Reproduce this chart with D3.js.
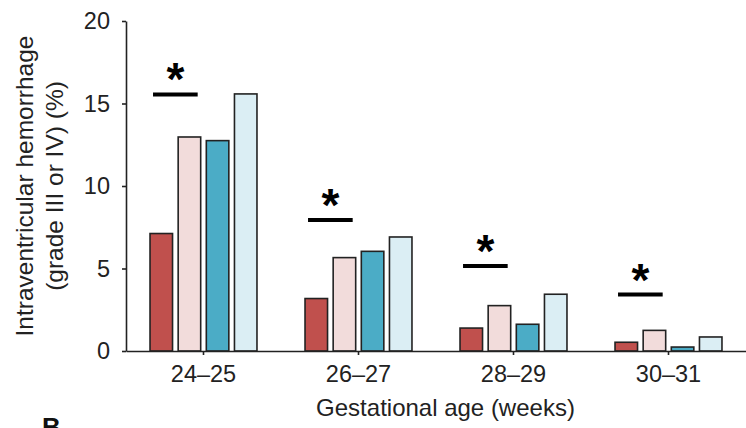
<!DOCTYPE html>
<html>
<head>
<meta charset="utf-8">
<script src="https://cdn.jsdelivr.net/npm/d3@7"></script>
<style>
  html, body { margin: 0; padding: 0; background: #fff; }
  svg { display: block; }
  text { font-family: "Liberation Sans", Arial, Helvetica, sans-serif; fill: #222; }
</style>
</head>
<body>
<svg id="chart" width="746" height="428"></svg>
<script>
// ---- data ----
const categories = ["24\u201325", "26\u201327", "28\u201329", "30\u201331"];
const seriesNames = ["Series 1", "Series 2", "Series 3", "Series 4"];
const series1 = [7.12, 3.18, 1.39, 0.53];
const series2 = [12.97, 5.66, 2.75, 1.25];
const series3 = [12.75, 6.04, 1.62, 0.24];
const series4 = [15.58, 6.91, 3.44, 0.85];
const sigLevels = [15.55, 7.94, 5.15, 3.42];   // significance bar height per group
const yTicks = [0, 5, 10, 15, 20];
const colors = ["#c0504d", "#f2dcdb", "#4bacc6", "#dbeef4"];

const seriesValues = [series1, series2, series3, series4];

const svg = d3.select("#chart");
const margin = { left: 126, right: 0, top: 21, bottom: 77 };
const W = 746, H = 428;
const y0 = H - margin.bottom; // 351

const x0 = d3.scaleBand().domain(categories)
  .range([margin.left, W - margin.right])
  .paddingInner(0.31).paddingOuter(0.155);
const x1 = d3.scaleBand().domain(seriesNames)
  .range([0, x0.bandwidth()]).paddingInner(0.2).paddingOuter(0);
const y = d3.scaleLinear().domain([0, 20]).range([y0, margin.top]);

// bars
const groups = svg.append("g").selectAll("g")
  .data(categories).join("g")
  .attr("transform", d => `translate(${x0(d)},0)`);

groups.selectAll("rect")
  .data((c, ci) => seriesNames.map((s, si) => ({ s, si, v: seriesValues[si][ci] })))
  .join("rect")
  .attr("x", d => x1(d.s))
  .attr("y", d => y(d.v))
  .attr("width", x1.bandwidth())
  .attr("height", d => y0 - y(d.v))
  .attr("fill", d => colors[d.si])
  .attr("stroke", "#222")
  .attr("stroke-width", 1.6);

// significance lines + asterisks (over series 1 & 2)
groups.each(function (c, ci) {
  const g = d3.select(this);
  const xa = x1(seriesNames[0]);
  const xb = x1(seriesNames[1]) + x1.bandwidth();
  const mid = (xa + xb) / 2;
  const half = (xb - xa) / 2 - 3;
  const ly = y(sigLevels[ci]);
  g.append("line")
    .attr("x1", mid - half).attr("x2", mid + half)
    .attr("y1", ly).attr("y2", ly)
    .attr("stroke", "#000").attr("stroke-width", 4);
  g.append("text")
    .attr("x", mid).attr("y", ly + 1)
    .attr("text-anchor", "middle")
    .style("font-size", "46px").style("font-weight", "bold")
    .style("fill", "#000")
    .text("*");
});

// y axis
const yAxis = d3.axisLeft(y).tickValues(yTicks).tickSize(4).tickSizeOuter(0).tickPadding(12);
const gy = svg.append("g").attr("transform", `translate(${margin.left},0)`).call(yAxis);
gy.select(".domain").attr("stroke", "#222").attr("stroke-width", 1.6);
gy.selectAll(".tick line").attr("stroke", "#222").attr("stroke-width", 1.6);
gy.selectAll(".tick text").style("font-size", "23.5px").style("fill", "#222");

// x axis
const xAxis = d3.axisBottom(x0).tickSize(4).tickSizeOuter(0).tickPadding(10);
const gx = svg.append("g").attr("transform", `translate(0,${y0})`).call(xAxis);
gx.select(".domain").attr("stroke", "#222").attr("stroke-width", 1.6);
gx.selectAll(".tick line").attr("stroke", "#222").attr("stroke-width", 1.6);
gx.selectAll(".tick text").style("font-size", "23.5px").style("fill", "#222");

// axis titles
svg.append("text")
  .attr("x", (316 + 575) / 2).attr("y", 416)
  .attr("text-anchor", "middle")
  .style("font-size", "24px")
  .text("Gestational age (weeks)");

const yl = svg.append("text")
  .attr("transform", "translate(0,186) rotate(-90)")
  .attr("text-anchor", "middle")
  .style("font-size", "24.5px");
yl.append("tspan").attr("x", 0).attr("y", 33).text("Intraventricular hemorrhage");
yl.append("tspan").attr("x", 0).attr("y", 63).text("(grade III or IV) (%)");

// panel letter (partially visible in the original)
svg.append("text")
  .attr("x", 42).attr("y", 436)
  .style("font-size", "26px").style("font-weight", "bold")
  .style("fill", "#111")
  .text("B");
</script>
</body>
</html>
